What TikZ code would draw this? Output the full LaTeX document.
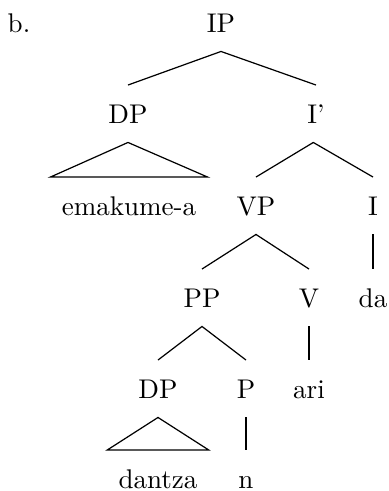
\documentclass[tikz,border=0pt]{standalone}

\begin{document}
\begin{tikzpicture}[x=0.37pt,y=-0.37pt]
        % Define styles for nodes and edges
        \tikzstyle{cat}=[anchor=base, inner xsep=4pt, inner ysep=7pt, text height=6.85pt, text depth=0pt]
        \tikzstyle{branch}=[draw=black, line width=0.45pt]

        \useasboundingbox (0,0) rectangle (389,491);

        % Define vertices
        \node[anchor=base, inner sep=0pt] (lbl) at (19,32) {b.};
        \node[cat] (ip) at (221,32) {IP};
        \node[cat] (dpa) at (128,123) {DP};
        \node[cat] (ibar) at (316,123) {I'};
        \node[cat] (emak) at (129,215) {emakume-a};
        \node[cat] (vp) at (256,215) {VP};
        \node[cat] (i) at (373,215) {I};
        \node[cat] (pp) at (202,307) {PP};
        \node[cat] (v) at (309,307) {V};
        \node[cat] (da) at (373,307) {da};
        \node[cat] (dpb) at (158,398) {DP};
        \node[cat] (p) at (246,398) {P};
        \node[cat] (ari) at (309,398) {ari};
        \node[cat] (dantza) at (158,488) {dantza};
        \node[cat] (n) at (246,488) {n};

        % Draw edges
        \draw[branch] (dpa.north) -- (ip.south) -- (ibar.north);
        \draw[branch] (dpa.south) -- (emak.north west) -- (emak.north east) -- cycle;
        \draw[branch] (vp.north) -- ([xshift=-1pt]ibar.south) -- (i.north);
        \draw[branch] (i.south) -- (da.north);
        \draw[branch] (pp.north) -- (vp.south) -- (v.north);
        \draw[branch] (v.south) -- (ari.north);
        \draw[branch] (dpb.north) -- (pp.south) -- (p.north);
        \draw[branch] (dpb.south) -- (dantza.north west) -- (dantza.north east) -- cycle;
        \draw[branch] (p.south) -- (n.north);

      \end{tikzpicture}
\end{document}
